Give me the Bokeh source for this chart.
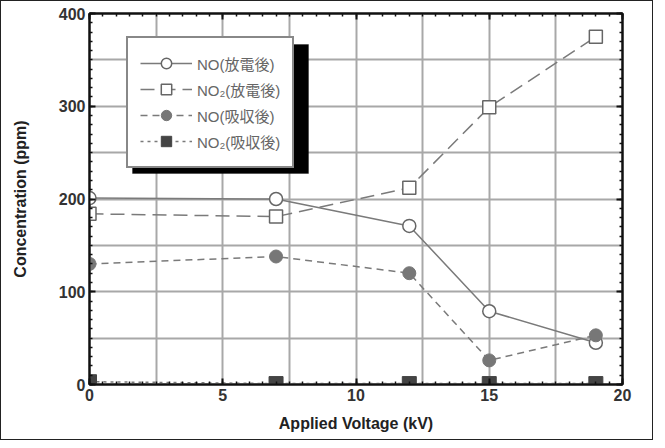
from bokeh.plotting import figure
from bokeh.models import (Range1d, LinearAxis, SingleIntervalTicker, Legend, LegendItem,
                          BoxAnnotation)
from bokeh.embed import file_html
from bokeh.resources import INLINE

voltage = [0, 7, 12, 15, 19]
no_discharge = [201, 200, 171, 79, 45]
no2_discharge = [184, 181, 212, 299, 375]
no_absorb = [130, 138, 120, 26, 53]
no2_absorb = [3, 1, 1, 1, 1]
labels = ["NO(放電後)", "NO₂(放電後)", "NO(吸収後)", "NO₂(吸収後)"]

W, H = 653, 440
p = figure(width=W, height=H, output_backend="svg", toolbar_location=None,
           x_range=Range1d(0, 20), y_range=Range1d(0, 400),
           min_border_left=88, min_border_right=32, min_border_top=12, min_border_bottom=57,
           x_axis_label="Applied Voltage (kV)", y_axis_label="Concentration (ppm)")
p.styles = {"border": "1.5px solid #222"}
p.outline_line_color = "#111"
p.outline_line_width = 2

xax = p.below[0]
yax = p.left[0]

# grids
p.xgrid.ticker = SingleIntervalTicker(interval=2.5)
p.ygrid.ticker = SingleIntervalTicker(interval=50)
for g in (p.xgrid, p.ygrid):
    g.grid_line_color = "#a8a8a8"
    g.grid_line_width = 2

xax.ticker = SingleIntervalTicker(interval=5, num_minor_ticks=10)
yax.ticker = SingleIntervalTicker(interval=100, num_minor_ticks=10)

extra_top = LinearAxis(ticker=SingleIntervalTicker(interval=5, num_minor_ticks=10))
extra_right = LinearAxis(ticker=SingleIntervalTicker(interval=100, num_minor_ticks=10))
for ax in (extra_top, extra_right):
    ax.major_label_text_font_size = "0px"
    ax.major_label_standoff = 0
p.add_layout(extra_top, "above")
p.add_layout(extra_right, "right")

for ax in (xax, yax, extra_top, extra_right):
    ax.axis_line_width = 2
    ax.axis_line_color = "#111"
    ax.major_tick_in = 6
    ax.major_tick_out = 0
    ax.minor_tick_in = 3
    ax.minor_tick_out = 0
    ax.major_tick_line_width = 2
    ax.minor_tick_line_width = 1.5
    ax.major_tick_line_color = "#111"
    ax.minor_tick_line_color = "#111"

for ax in (xax, yax):
    ax.major_label_text_font = "Liberation Sans"
    ax.major_label_text_font_style = "bold"
    ax.major_label_text_font_size = "16px"
    ax.major_label_text_color = "#333"
    ax.axis_label_text_font = "Liberation Sans"
    ax.axis_label_text_font_style = "bold"
    ax.axis_label_text_font_size = "16px"
    ax.axis_label_text_color = "#222"
xax.major_label_standoff = 4
xax.axis_label_standoff = 11
yax.major_label_standoff = 4
yax.axis_label_standoff = 27

line_col = "#7a7a7a"
r1l = p.line(voltage, no_discharge, line_color=line_col, line_width=1.5)
r1m = p.scatter(voltage, no_discharge, marker="circle", size=13, fill_color="white",
                line_color="#666", line_width=1.5)
r2l = p.line(voltage, no2_discharge, line_color=line_col, line_width=1.5, line_dash="14 7")
r2m = p.scatter(voltage, no2_discharge, marker="square", size=13, fill_color="white",
                line_color="#666", line_width=1.5)
r3l = p.line(voltage, no_absorb, line_color=line_col, line_width=1.5, line_dash="7 5")
r3m = p.scatter(voltage, no_absorb, marker="circle", size=13, fill_color="#777",
                line_color="#777")
r4l = p.line(voltage, no2_absorb, line_color=line_col, line_width=1.5, line_dash="3 4")
r4m = p.scatter(voltage, no2_absorb, marker="square", size=14, fill_color="#444",
                line_color="#444")

# legend drop shadow (screen px relative to the plot frame, y measured from its bottom)
shadow = BoxAnnotation(left=43, right=219, top=340, bottom=211,
                       left_units="screen", right_units="screen",
                       top_units="screen", bottom_units="screen",
                       fill_color="black", fill_alpha=1, line_color="black")
p.add_layout(shadow)

legend = Legend(items=[LegendItem(label=labels[0], renderers=[r1l, r1m]),
                       LegendItem(label=labels[1], renderers=[r2l, r2m]),
                       LegendItem(label=labels[2], renderers=[r3l, r3m]),
                       LegendItem(label=labels[3], renderers=[r4l, r4m])],
                location=(37, 216))
legend.border_line_color = "#111"
legend.border_line_width = 2
legend.background_fill_color = "white"
legend.background_fill_alpha = 1
legend.label_text_font = "Liberation Sans, Noto Sans CJK JP"
legend.label_text_font_size = "15px"
legend.label_text_color = "#666"
legend.glyph_width = 52
legend.glyph_height = 26
legend.label_height = 26
legend.spacing = 0
legend.padding = 12
legend.margin = 0
legend.label_standoff = 5
p.add_layout(legend)

open("out.html", "w").write(file_html(p, INLINE))
